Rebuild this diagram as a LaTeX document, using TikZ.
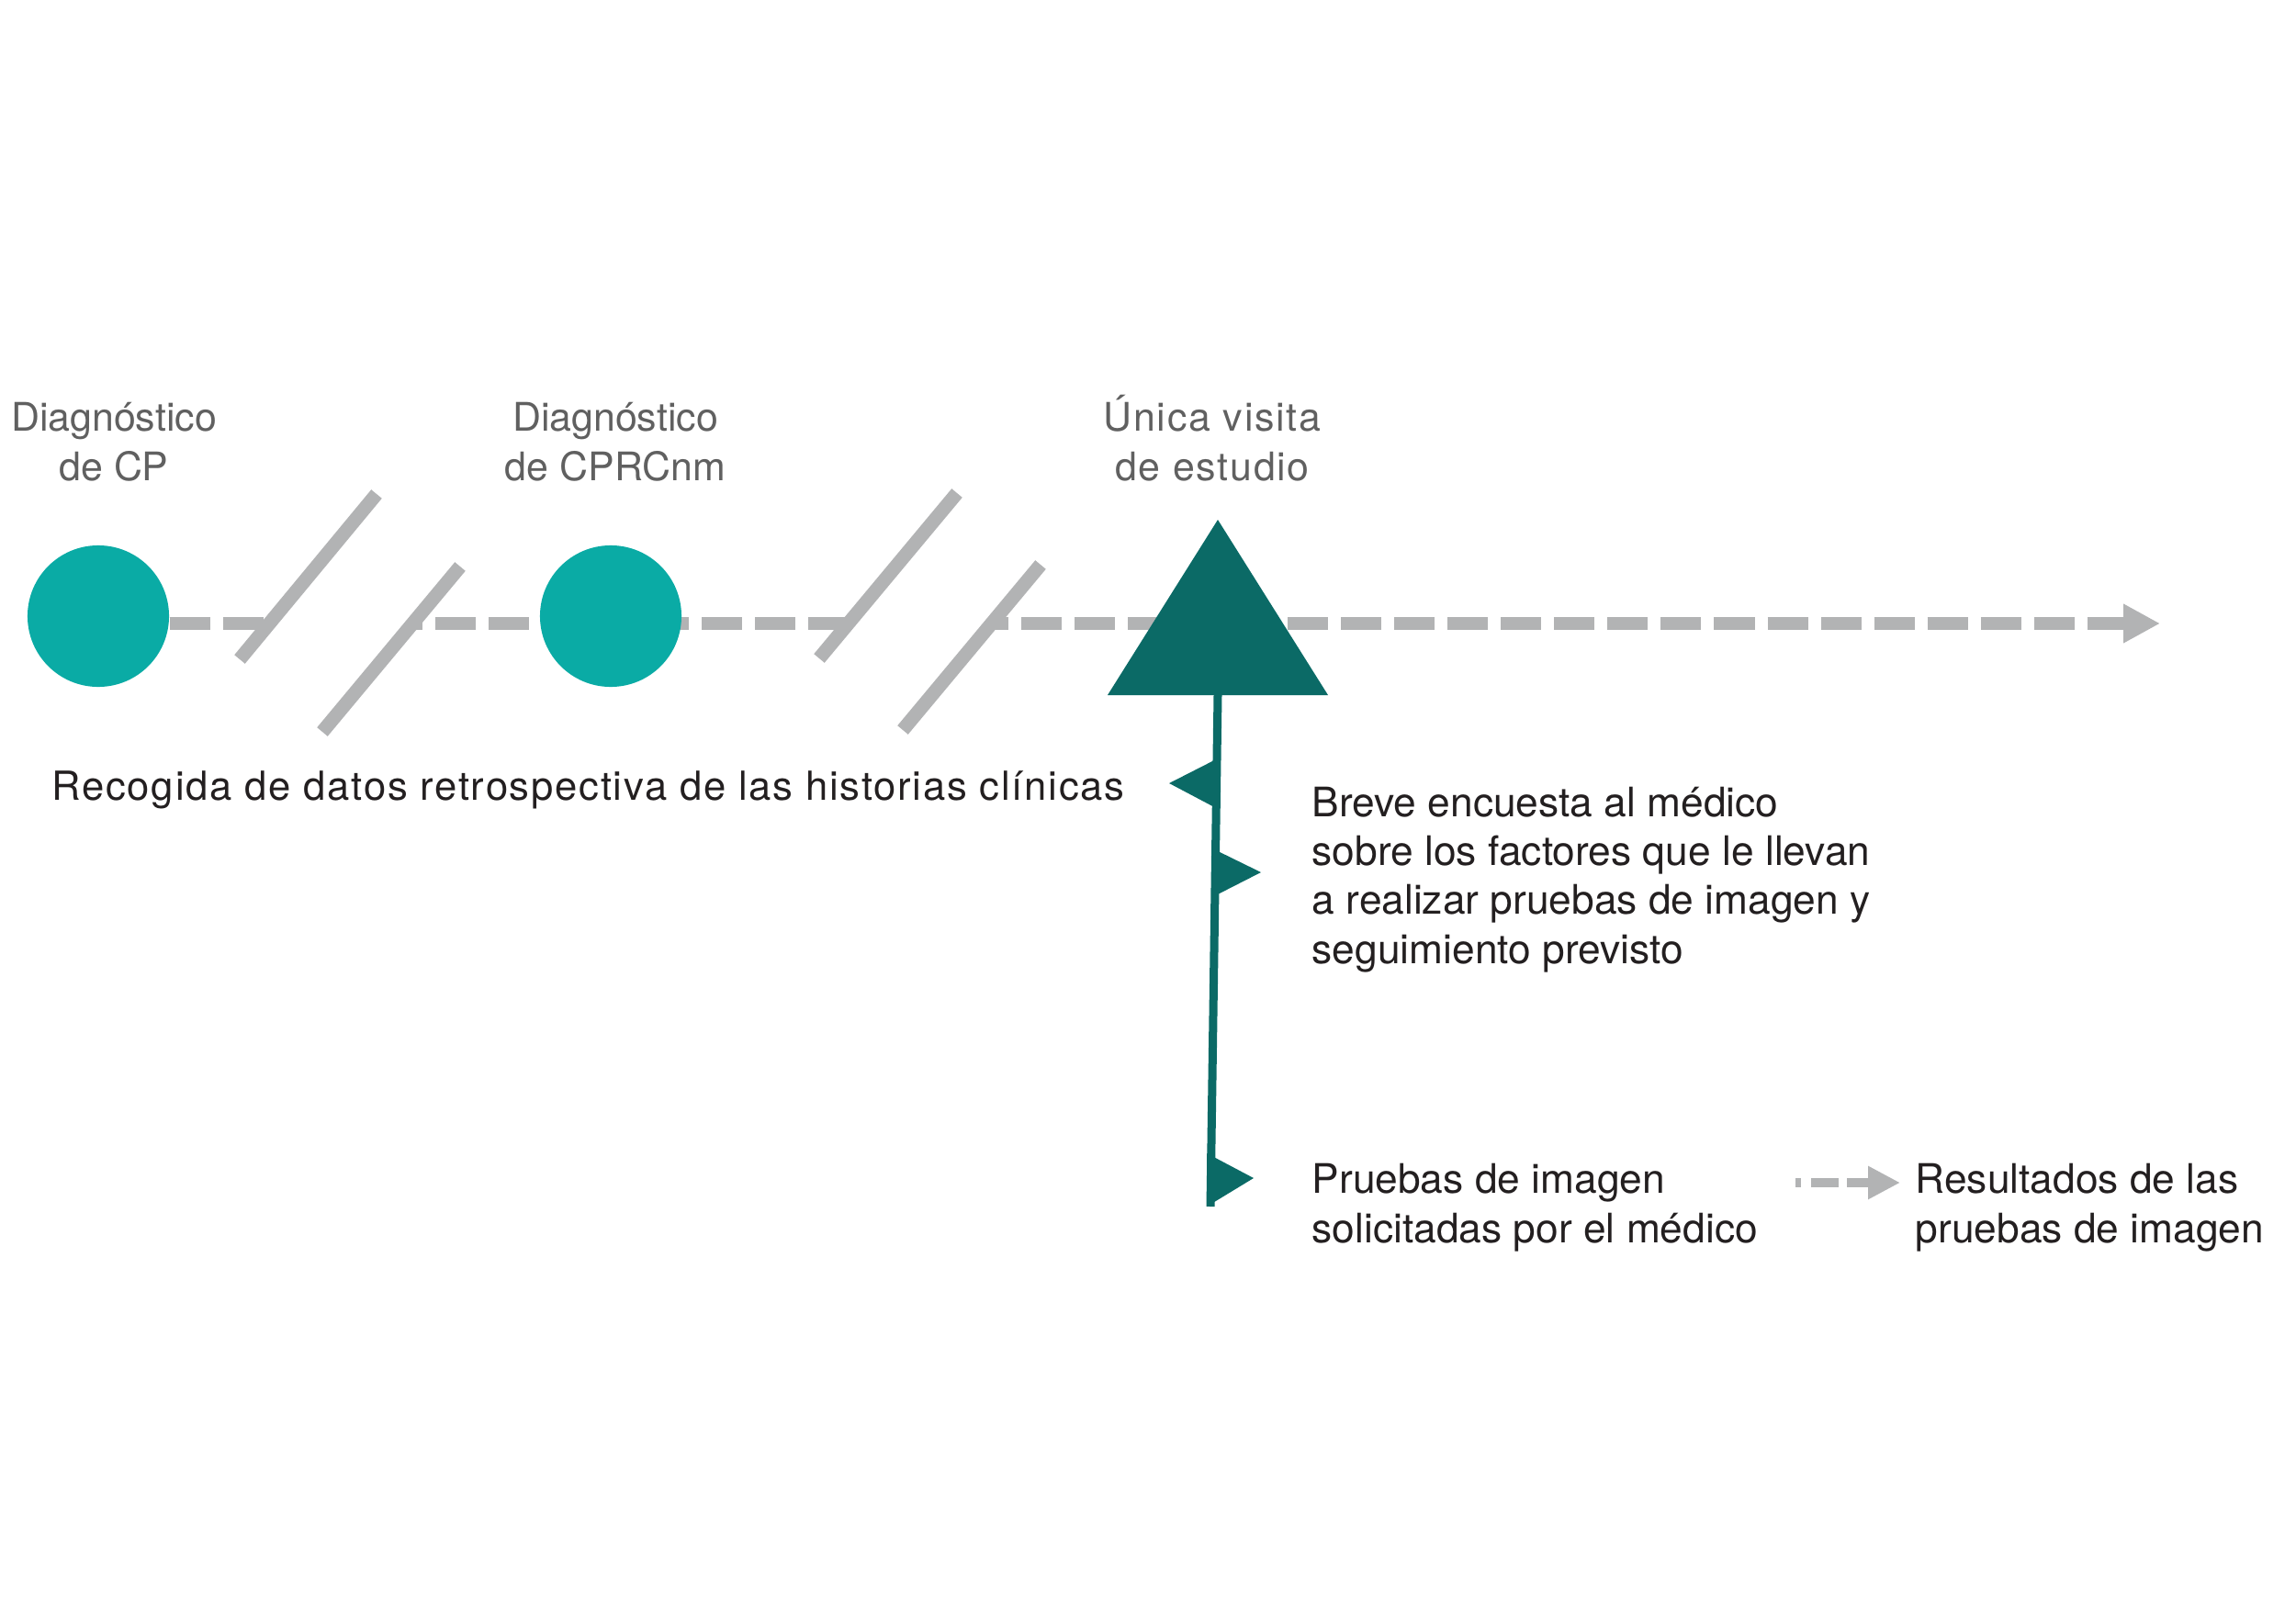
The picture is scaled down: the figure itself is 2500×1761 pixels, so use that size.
\documentclass[tikz,border=0pt]{standalone}
\usepackage{fontspec}
\setmainfont{TeX Gyre Heros}
\newfontfamily\spacedfont[LetterSpace=4.0]{TeX Gyre Heros}
\usetikzlibrary{arrows.meta}
\definecolor{tealL}{RGB}{10,171,165}
\definecolor{tealD}{RGB}{11,106,102}
\definecolor{dashgray}{RGB}{178,179,180}
\definecolor{labelgray}{RGB}{96,96,96}
\definecolor{textblack}{RGB}{35,31,32}
\tikzset{
  dashline/.style={draw=dashgray, line width=0.145cm, dash pattern=on 0.44cm off 0.14cm},
  slashline/.style={draw=dashgray, line width=0.15cm},
  dot/.style={circle, fill=tealL, minimum size=1.54cm, inner sep=0pt},
  graylabel/.style={text=labelgray, font=\fontsize{12.2}{15.2}\selectfont, align=center, anchor=base, inner sep=0pt},
  bodytext/.style={text=textblack, font=\fontsize{12.6}{15.1}\selectfont, align=left, anchor=base west, inner sep=0pt},
  flagshape/.style={fill=tealD},
  stemline/.style={draw=tealD, line width=0.09cm},
}
\begin{document}
\begin{tikzpicture}[x=0.01cm,y=-0.01cm]
\useasboundingbox (0,0) rectangle (2500,1761);
% main dashed time line
\coordinate (lineL) at (184,679);
\coordinate (b1) at (292,679);
\coordinate (b2) at (448,679);
\coordinate (b3) at (923,679);
\coordinate (b4) at (1079,679);
\coordinate (lineR) at (2352,679);
\node[dot] (c1) at (107,671) {};
\draw[dashline] (c1.east |- lineL) -- (b1);
\draw[dashline, dash phase=0.32cm] (b2) -- (b3);
\draw[dashline, dash phase=0.25cm, -{Triangle[length=0.4cm,width=0.4cm]}] (b4) -- (lineR);
\node[dot] (c2) at (665,671) {};
% break slashes
\draw[slashline] (410,538) -- (261,718);
\draw[slashline] (501,617) -- (351,797);
\draw[slashline] (1042,537) -- (892,717);
\draw[slashline] (1133,615) -- (983,795);
% triangle and stem
\coordinate (apex) at (1326,566);
\coordinate (baseL) at (1206,757);
\coordinate (baseR) at (1446,757);
\coordinate (stem) at (1326,757);
\coordinate (stemEnd) at (1318,1314);
\fill[tealD] (apex) -- (baseR) -- (baseL) -- cycle;
\draw[stemline] (stem) -- (stemEnd);
% flags
\fill[flagshape] (1326,826) -- (1273,853) -- (1326,881) -- cycle;
\fill[flagshape] (1322,925) -- (1373,950) -- (1322,976) -- cycle;
\fill[flagshape] (1314,1256) -- (1365,1283) -- (1314,1314) -- cycle;
% labels (base anchor = last line baseline)
\node[graylabel] (l1) at (124,523) {Diagnóstico\\de CP};
\node[graylabel] (l2) at (670,523) {Diagnóstico\\de CPRCnm};
\node[graylabel, font=\spacedfont\fontsize{12.2}{15.2}\selectfont] (l3) at (1320,523) {Única visita\\de estudio};
\node[bodytext, font=\spacedfont\fontsize{12.4}{15.1}\selectfont] (t0) at (56,871) {Recogida de datos retrospectiva de las historias clínicas};
\node[bodytext] (t1) at (1428,1049) {Breve encuesta al médico\\sobre los factores que le llevan\\a realizar pruebas de imagen y\\seguimiento previsto};
\node[bodytext] (t2) at (1428,1353) {Pruebas de imagen\\solicitadas por el médico};
\node[bodytext] (t3) at (2085,1353) {Resultados de las\\pruebas de imagen};
% small result arrow
\coordinate (sa1) at (1955,1288);
\coordinate (sa2) at (2069,1288);
\draw[draw=dashgray, line width=0.1cm, dash pattern=on 0.06cm off 0.11cm on 0.30cm off 0.09cm on 0.6cm off 0.1cm, -{Triangle[length=0.35cm,width=0.34cm]}] (sa1) -- (sa2);
\end{tikzpicture}
\end{document}
